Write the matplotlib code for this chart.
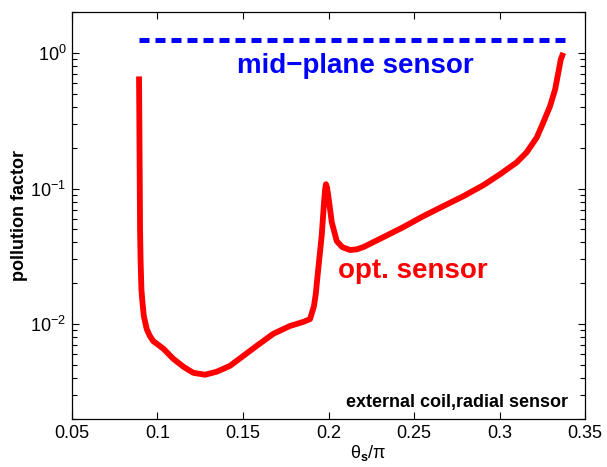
import numpy as np
import matplotlib
matplotlib.use("Agg")
import matplotlib.pyplot as plt

plt.rcParams['font.family'] = ['Liberation Sans', 'DejaVu Sans']
plt.rcParams['mathtext.fontset'] = 'custom'
plt.rcParams['mathtext.rm'] = 'Liberation Sans'
plt.rcParams['mathtext.it'] = 'Liberation Sans'
plt.rcParams['mathtext.bf'] = 'Liberation Sans:bold'
plt.rcParams['mathtext.default'] = 'regular'

# optimised sensor curve
theta_opt = [0.0892, 0.0895, 0.0898, 0.0901, 0.0906, 0.0912, 0.0920, 0.0937,
             0.0955, 0.0975, 0.1034, 0.1092, 0.1151, 0.1209, 0.1278, 0.1346,
             0.1424, 0.1502, 0.1580, 0.1677, 0.1775, 0.1853, 0.1892, 0.1915,
             0.1925, 0.1940, 0.1960, 0.1974, 0.1980, 0.1985, 0.1991, 0.1999,
             0.2019, 0.2048, 0.2080, 0.2126, 0.2165, 0.2204, 0.2321, 0.2437,
             0.2554, 0.2671, 0.2788, 0.2905, 0.3003, 0.3101, 0.3159, 0.3218,
             0.3256, 0.3295, 0.3325, 0.3344, 0.3358, 0.3373]
poll_opt = [0.67, 0.2, 0.05, 0.03, 0.018, 0.0145, 0.0115, 0.0092,
            0.0082, 0.0075, 0.0066, 0.00556, 0.00486, 0.00438, 0.00424, 0.00446,
            0.00493, 0.00584, 0.00692, 0.00849, 0.0097, 0.0104, 0.0109, 0.0136,
            0.0165, 0.0255, 0.0446, 0.0793, 0.098, 0.1076, 0.102, 0.0878,
            0.0565, 0.041, 0.037, 0.0352, 0.0356, 0.0370, 0.0438, 0.0519,
            0.0625, 0.0741, 0.0877, 0.1057, 0.1274, 0.156, 0.185, 0.238,
            0.307, 0.403, 0.537, 0.716, 0.893, 1.0]

# mid-plane sensor (constant)
theta_mid = [0.0893, 0.339]
poll_mid = [1.25, 1.25]

xticks = [0.05, 0.1, 0.15, 0.2, 0.25, 0.3, 0.35]
xtick_labels = ['0.05', '0.1', '0.15', '0.2', '0.25', '0.3', '0.35']

fig = plt.figure(figsize=(6.07, 4.67), dpi=100)
ax = fig.add_axes([0.1186, 0.1028, 0.8452, 0.8715])

ax.plot(theta_mid, poll_mid, color='blue', lw=3.6, linestyle=(0, (2, 1.2)),
        dash_capstyle='butt')
ax.plot(theta_opt, poll_opt, color='red', lw=4.2, solid_capstyle='butt',
        solid_joinstyle='round')

ax.set_yscale('log')
ax.set_xlim(0.05, 0.35)
ax.set_ylim(2e-3, 2.0)
ax.set_xticks(xticks)
ax.set_xticklabels(xtick_labels)
ax.set_yticks([1e-2, 1e-1, 1e0])

ax.tick_params(which='both', direction='in', top=True, right=True,
               labelsize=13, width=0.8)
ax.tick_params(which='major', length=5, pad=4)
ax.tick_params(which='minor', length=3.5)
for s in ax.spines.values():
    s.set_linewidth(0.9)

ax.set_ylabel('pollution factor', fontsize=13, fontweight='bold', labelpad=2)
ax.set_xlabel(r'$\theta_\mathbf{s}/\pi$', fontsize=13)
ax.xaxis.set_label_coords(0.577, -0.058)

ax.text(0.2155, 0.8, 'mid\u2212plane sensor', color='blue', fontsize=20,
        fontweight='bold', ha='center', va='center')
ax.text(0.2494, 0.0245, 'opt. sensor', color='red', fontsize=20,
        fontweight='bold', ha='center', va='center')
ax.text(0.2749, 0.00265, 'external coil,radial sensor', color='black',
        fontsize=13, fontweight='bold', ha='center', va='center')

fig.savefig('out.png', dpi=100)
